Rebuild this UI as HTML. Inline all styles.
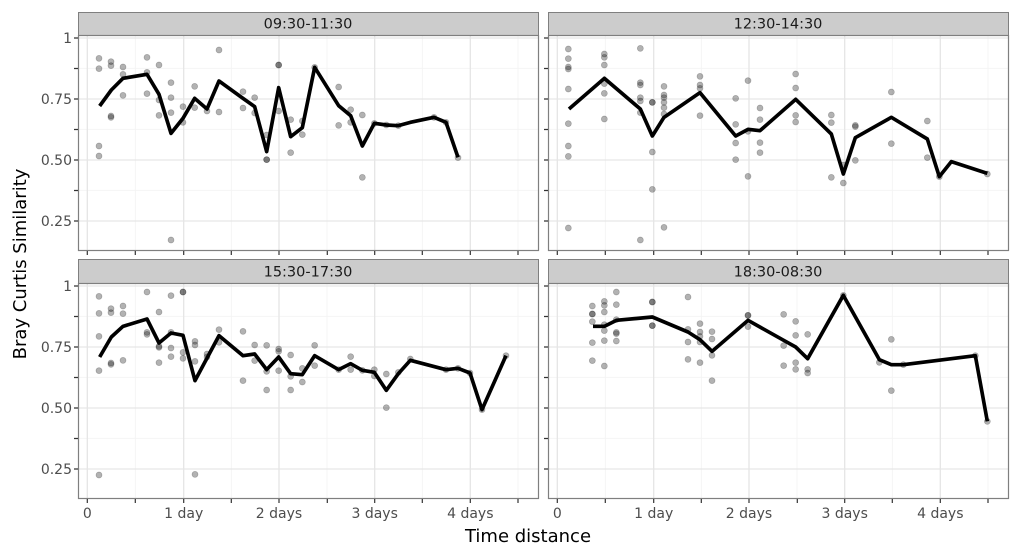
<!DOCTYPE html>
<html><head><style>body{margin:0;background:#fff}svg{display:block}text{font-family:"DejaVu Sans","Liberation Sans",sans-serif}</style></head>
<body>
<svg width="1020" height="558" viewBox="0 0 1020 558" xmlns="http://www.w3.org/2000/svg">
<defs>
<g id="grid">
<rect x="0" y="0" width="1380" height="645" fill="#fff"/>
<g stroke="#f3f3f3" stroke-width="2.5">
<line x1="172" y1="0" x2="172" y2="645"/><line x1="460" y1="0" x2="460" y2="645"/><line x1="747" y1="0" x2="747" y2="645"/><line x1="1033" y1="0" x2="1033" y2="645"/><line x1="1320" y1="0" x2="1320" y2="645"/>
<line x1="0" y1="100" x2="1380" y2="100"/><line x1="0" y1="283" x2="1380" y2="283"/><line x1="0" y1="466" x2="1380" y2="466"/>
</g>
<g stroke="#e6e6e6" stroke-width="4">
<line x1="28" y1="0" x2="28" y2="645"/><line x1="317" y1="0" x2="317" y2="645"/><line x1="603" y1="0" x2="603" y2="645"/><line x1="890" y1="0" x2="890" y2="645"/><line x1="1177" y1="0" x2="1177" y2="645"/>
<line x1="0" y1="9" x2="1380" y2="9"/><line x1="0" y1="192" x2="1380" y2="192"/><line x1="0" y1="375" x2="1380" y2="375"/><line x1="0" y1="558" x2="1380" y2="558"/>
</g>
</g>
</defs>

<g stroke="#7f7f7f" stroke-width="1" fill="#cccccc">
<rect x="78.5" y="12.5" width="460" height="23"/>
<rect x="548.5" y="12.5" width="460" height="23"/>
<rect x="78.5" y="259.5" width="460" height="24"/>
<rect x="548.5" y="259.5" width="460" height="24"/>
</g>
<g font-size="14.5" fill="#1a1a1a" text-anchor="middle">
<text x="308" y="28.5">09:30-11:30</text>
<text x="778" y="28.5">12:30-14:30</text>
<text x="308" y="276.5">15:30-17:30</text>
<text x="778" y="276.5">18:30-08:30</text>
</g>

<g transform="translate(78,35) scale(0.33333)">
<use href="#grid"/>
<g fill="#000" fill-opacity="0.3" stroke="#000" stroke-opacity="0.25" stroke-width="2">
<circle cx="63" cy="70" r="9"/><circle cx="63" cy="101" r="9"/><circle cx="63" cy="333" r="9"/><circle cx="63" cy="363" r="9"/><circle cx="99" cy="80" r="9"/><circle cx="99" cy="92" r="9"/><circle cx="99" cy="243" r="9"/><circle cx="99" cy="247" r="9"/><circle cx="135" cy="96" r="9"/><circle cx="135" cy="118" r="9"/><circle cx="135" cy="181" r="9"/><circle cx="207" cy="67" r="9"/><circle cx="207" cy="112" r="9"/><circle cx="207" cy="176" r="9"/><circle cx="243" cy="90" r="9"/><circle cx="243" cy="195" r="9"/><circle cx="243" cy="241" r="9"/><circle cx="279" cy="143" r="9"/><circle cx="279" cy="188" r="9"/><circle cx="279" cy="233" r="9"/><circle cx="279" cy="615" r="9"/><circle cx="315" cy="215" r="9"/><circle cx="315" cy="262" r="9"/><circle cx="350" cy="154" r="9"/><circle cx="350" cy="218" r="9"/><circle cx="387" cy="228" r="9"/><circle cx="423" cy="45" r="9"/><circle cx="423" cy="231" r="9"/><circle cx="495" cy="170" r="9"/><circle cx="495" cy="219" r="9"/><circle cx="530" cy="188" r="9"/><circle cx="530" cy="234" r="9"/><circle cx="566" cy="300" r="9"/><circle cx="566" cy="374" r="9"/><circle cx="566" cy="374" r="9"/><circle cx="602" cy="90" r="9"/><circle cx="602" cy="90" r="9"/><circle cx="602" cy="228" r="9"/><circle cx="638" cy="254" r="9"/><circle cx="638" cy="353" r="9"/><circle cx="673" cy="258" r="9"/><circle cx="673" cy="299" r="9"/><circle cx="710" cy="97" r="9"/><circle cx="782" cy="156" r="9"/><circle cx="782" cy="271" r="9"/><circle cx="818" cy="224" r="9"/><circle cx="818" cy="262" r="9"/><circle cx="853" cy="240" r="9"/><circle cx="853" cy="427" r="9"/><circle cx="889" cy="265" r="9"/><circle cx="925" cy="270" r="9"/><circle cx="961" cy="272" r="9"/><circle cx="1068" cy="247" r="9"/><circle cx="1104" cy="262" r="9"/><circle cx="1140" cy="368" r="9"/>
</g>
<polyline fill="none" stroke="#000" stroke-width="11" stroke-linejoin="round" points="65,213 100,165 135,130 207,118 243,178 279,295 315,250 350,190 387,222 423,138 495,190 530,215 566,350 602,158 638,305 673,278 710,97 782,212 818,242 853,333 889,265 925,270 961,272 997,262 1068,247 1104,262 1140,367"/>
</g>

<g transform="translate(548,35) scale(0.33333)">
<use href="#grid"/>
<g fill="#000" fill-opacity="0.3" stroke="#000" stroke-opacity="0.25" stroke-width="2">
<circle cx="61" cy="42" r="9"/><circle cx="61" cy="71" r="9"/><circle cx="61" cy="96" r="9"/><circle cx="61" cy="102" r="9"/><circle cx="61" cy="162" r="9"/><circle cx="61" cy="266" r="9"/><circle cx="61" cy="333" r="9"/><circle cx="61" cy="364" r="9"/><circle cx="61" cy="579" r="9"/><circle cx="169" cy="57" r="9"/><circle cx="169" cy="67" r="9"/><circle cx="169" cy="90" r="9"/><circle cx="169" cy="146" r="9"/><circle cx="169" cy="175" r="9"/><circle cx="169" cy="252" r="9"/><circle cx="277" cy="40" r="9"/><circle cx="277" cy="143" r="9"/><circle cx="277" cy="150" r="9"/><circle cx="277" cy="188" r="9"/><circle cx="277" cy="198" r="9"/><circle cx="277" cy="233" r="9"/><circle cx="277" cy="615" r="9"/><circle cx="313" cy="202" r="9"/><circle cx="313" cy="202" r="9"/><circle cx="313" cy="351" r="9"/><circle cx="313" cy="463" r="9"/><circle cx="348" cy="154" r="9"/><circle cx="348" cy="180" r="9"/><circle cx="348" cy="188" r="9"/><circle cx="348" cy="202" r="9"/><circle cx="348" cy="218" r="9"/><circle cx="348" cy="237" r="9"/><circle cx="348" cy="577" r="9"/><circle cx="456" cy="124" r="9"/><circle cx="456" cy="150" r="9"/><circle cx="456" cy="160" r="9"/><circle cx="456" cy="242" r="9"/><circle cx="563" cy="190" r="9"/><circle cx="563" cy="268" r="9"/><circle cx="563" cy="324" r="9"/><circle cx="563" cy="374" r="9"/><circle cx="600" cy="137" r="9"/><circle cx="600" cy="289" r="9"/><circle cx="600" cy="424" r="9"/><circle cx="636" cy="219" r="9"/><circle cx="636" cy="254" r="9"/><circle cx="636" cy="323" r="9"/><circle cx="636" cy="353" r="9"/><circle cx="743" cy="117" r="9"/><circle cx="743" cy="159" r="9"/><circle cx="743" cy="241" r="9"/><circle cx="743" cy="261" r="9"/><circle cx="850" cy="240" r="9"/><circle cx="850" cy="263" r="9"/><circle cx="850" cy="427" r="9"/><circle cx="886" cy="390" r="9"/><circle cx="886" cy="444" r="9"/><circle cx="922" cy="271" r="9"/><circle cx="922" cy="275" r="9"/><circle cx="922" cy="376" r="9"/><circle cx="1030" cy="171" r="9"/><circle cx="1030" cy="326" r="9"/><circle cx="1138" cy="258" r="9"/><circle cx="1138" cy="368" r="9"/><circle cx="1174" cy="425" r="9"/><circle cx="1318" cy="417" r="9"/>
</g>
<polyline fill="none" stroke="#000" stroke-width="11" stroke-linejoin="round" points="63,222 169,130 277,222 313,303 348,247 456,173 563,303 600,283 636,287 743,193 850,297 886,417 922,308 1030,247 1138,312 1174,425 1210,380 1318,415"/>
</g>

<g transform="translate(78,283) scale(0.33333)">
<use href="#grid"/>
<g fill="#000" fill-opacity="0.3" stroke="#000" stroke-opacity="0.25" stroke-width="2">
<circle cx="63" cy="40" r="9"/><circle cx="63" cy="91" r="9"/><circle cx="63" cy="160" r="9"/><circle cx="63" cy="263" r="9"/><circle cx="63" cy="576" r="9"/><circle cx="99" cy="77" r="9"/><circle cx="99" cy="89" r="9"/><circle cx="99" cy="240" r="9"/><circle cx="99" cy="244" r="9"/><circle cx="135" cy="69" r="9"/><circle cx="135" cy="92" r="9"/><circle cx="135" cy="232" r="9"/><circle cx="207" cy="27" r="9"/><circle cx="207" cy="148" r="9"/><circle cx="207" cy="154" r="9"/><circle cx="243" cy="87" r="9"/><circle cx="243" cy="190" r="9"/><circle cx="243" cy="193" r="9"/><circle cx="243" cy="239" r="9"/><circle cx="279" cy="38" r="9"/><circle cx="279" cy="148" r="9"/><circle cx="279" cy="195" r="9"/><circle cx="279" cy="221" r="9"/><circle cx="315" cy="27" r="9"/><circle cx="315" cy="27" r="9"/><circle cx="315" cy="208" r="9"/><circle cx="315" cy="226" r="9"/><circle cx="351" cy="175" r="9"/><circle cx="351" cy="186" r="9"/><circle cx="351" cy="235" r="9"/><circle cx="351" cy="574" r="9"/><circle cx="387" cy="213" r="9"/><circle cx="387" cy="222" r="9"/><circle cx="423" cy="140" r="9"/><circle cx="423" cy="178" r="9"/><circle cx="495" cy="145" r="9"/><circle cx="495" cy="293" r="9"/><circle cx="530" cy="186" r="9"/><circle cx="530" cy="233" r="9"/><circle cx="566" cy="187" r="9"/><circle cx="566" cy="265" r="9"/><circle cx="566" cy="321" r="9"/><circle cx="602" cy="198" r="9"/><circle cx="602" cy="205" r="9"/><circle cx="602" cy="263" r="9"/><circle cx="638" cy="216" r="9"/><circle cx="638" cy="280" r="9"/><circle cx="638" cy="321" r="9"/><circle cx="673" cy="256" r="9"/><circle cx="673" cy="297" r="9"/><circle cx="710" cy="187" r="9"/><circle cx="710" cy="248" r="9"/><circle cx="782" cy="260" r="9"/><circle cx="818" cy="221" r="9"/><circle cx="818" cy="260" r="9"/><circle cx="853" cy="262" r="9"/><circle cx="889" cy="260" r="9"/><circle cx="889" cy="279" r="9"/><circle cx="925" cy="273" r="9"/><circle cx="925" cy="374" r="9"/><circle cx="961" cy="268" r="9"/><circle cx="997" cy="228" r="9"/><circle cx="1104" cy="260" r="9"/><circle cx="1140" cy="256" r="9"/><circle cx="1176" cy="270" r="9"/><circle cx="1212" cy="380" r="9"/><circle cx="1284" cy="218" r="9"/>
</g>
<polyline fill="none" stroke="#000" stroke-width="11" stroke-linejoin="round" points="65,222 100,162 135,130 207,108 243,180 279,150 315,157 351,293 423,158 495,218 530,213 566,260 602,222 638,272 673,275 710,218 782,260 818,242 853,262 889,268 925,322 961,272 997,232 1104,260 1140,256 1176,270 1212,380 1284,218"/>
</g>

<g transform="translate(548,283) scale(0.33333)">
<use href="#grid"/>
<g fill="#000" fill-opacity="0.3" stroke="#000" stroke-opacity="0.25" stroke-width="2">
<circle cx="133" cy="69" r="9"/><circle cx="133" cy="93" r="9"/><circle cx="133" cy="93" r="9"/><circle cx="133" cy="116" r="9"/><circle cx="133" cy="179" r="9"/><circle cx="133" cy="233" r="9"/><circle cx="169" cy="55" r="9"/><circle cx="169" cy="67" r="9"/><circle cx="169" cy="87" r="9"/><circle cx="169" cy="125" r="9"/><circle cx="169" cy="143" r="9"/><circle cx="169" cy="173" r="9"/><circle cx="169" cy="249" r="9"/><circle cx="205" cy="27" r="9"/><circle cx="205" cy="65" r="9"/><circle cx="205" cy="110" r="9"/><circle cx="205" cy="148" r="9"/><circle cx="205" cy="152" r="9"/><circle cx="205" cy="174" r="9"/><circle cx="313" cy="57" r="9"/><circle cx="313" cy="57" r="9"/><circle cx="313" cy="128" r="9"/><circle cx="313" cy="128" r="9"/><circle cx="420" cy="42" r="9"/><circle cx="420" cy="139" r="9"/><circle cx="420" cy="177" r="9"/><circle cx="420" cy="229" r="9"/><circle cx="456" cy="122" r="9"/><circle cx="456" cy="147" r="9"/><circle cx="456" cy="160" r="9"/><circle cx="456" cy="177" r="9"/><circle cx="456" cy="239" r="9"/><circle cx="492" cy="146" r="9"/><circle cx="492" cy="168" r="9"/><circle cx="492" cy="217" r="9"/><circle cx="492" cy="293" r="9"/><circle cx="600" cy="97" r="9"/><circle cx="600" cy="97" r="9"/><circle cx="600" cy="131" r="9"/><circle cx="707" cy="94" r="9"/><circle cx="707" cy="188" r="9"/><circle cx="707" cy="248" r="9"/><circle cx="743" cy="115" r="9"/><circle cx="743" cy="157" r="9"/><circle cx="743" cy="239" r="9"/><circle cx="743" cy="259" r="9"/><circle cx="779" cy="154" r="9"/><circle cx="779" cy="259" r="9"/><circle cx="779" cy="270" r="9"/><circle cx="886" cy="37" r="9"/><circle cx="994" cy="238" r="9"/><circle cx="1030" cy="169" r="9"/><circle cx="1030" cy="323" r="9"/><circle cx="1066" cy="245" r="9"/><circle cx="1282" cy="218" r="9"/><circle cx="1318" cy="415" r="9"/>
</g>
<polyline fill="none" stroke="#000" stroke-width="11" stroke-linejoin="round" points="135,130 169,130 205,112 313,102 420,147 456,170 492,205 600,112 707,172 743,192 779,227 886,37 994,230 1030,245 1066,245 1282,218 1318,415"/>
</g>

<g fill="none" stroke="#7f7f7f" stroke-width="1.2">
<rect x="78.5" y="35.5" width="460" height="215"/>
<rect x="548.5" y="35.5" width="460" height="215"/>
<rect x="78.5" y="283.5" width="460" height="215"/>
<rect x="548.5" y="283.5" width="460" height="215"/>
</g>

<g stroke="#333" stroke-width="1.2">
<path d="M74 38H78M74 68.5H78M74 99H78M74 129.5H78M74 160H78M74 190.5H78M74 221H78"/>
<path d="M544 38H548M544 68.5H548M544 99H548M544 129.5H548M544 160H548M544 190.5H548M544 221H548"/>
<path d="M74 286H78M74 316.5H78M74 347H78M74 377.5H78M74 408H78M74 438.5H78M74 469H78"/>
<path d="M544 286H548M544 316.5H548M544 347H548M544 377.5H548M544 408H548M544 438.5H548M544 469H548"/>
<path d="M87.3 499V503M135.3 499V503M183.7 499V503M231.3 499V503M279 499V503M327.3 499V503M374.7 499V503M422.3 499V503M470.3 499V503M518 499V503"/>
<path d="M557.3 499V503M605.3 499V503M653.7 499V503M701.3 499V503M749 499V503M797.3 499V503M844.7 499V503M892.3 499V503M940.3 499V503M988 499V503"/>
<path d="M87.3 251V255M135.3 251V255M183.7 251V255M231.3 251V255M279 251V255M327.3 251V255M374.7 251V255M422.3 251V255M470.3 251V255M518 251V255"/>
<path d="M557.3 251V255M605.3 251V255M653.7 251V255M701.3 251V255M749 251V255M797.3 251V255M844.7 251V255M892.3 251V255M940.3 251V255M988 251V255"/>
</g>

<g font-size="14" fill="#4d4d4d" text-anchor="end">
<text x="72" y="43">1</text><text x="72" y="104">0.75</text><text x="72" y="165">0.50</text><text x="72" y="226">0.25</text>
<text x="72" y="291">1</text><text x="72" y="352">0.75</text><text x="72" y="413">0.50</text><text x="72" y="474">0.25</text>
</g>
<g font-size="14" fill="#4d4d4d" text-anchor="middle">
<text x="87.3" y="518">0</text><text x="183.7" y="518">1 day</text><text x="279" y="518">2 days</text><text x="374.7" y="518">3 days</text><text x="470.3" y="518">4 days</text>
<text x="557.3" y="518">0</text><text x="653.7" y="518">1 day</text><text x="749" y="518">2 days</text><text x="844.7" y="518">3 days</text><text x="940.3" y="518">4 days</text>
</g>
<text x="528" y="542" font-size="18" fill="#000" text-anchor="middle">Time distance</text>
<text transform="translate(26,264) rotate(-90)" font-size="18" fill="#000" text-anchor="middle">Bray Curtis Similarity</text>
</svg>
</body></html>
